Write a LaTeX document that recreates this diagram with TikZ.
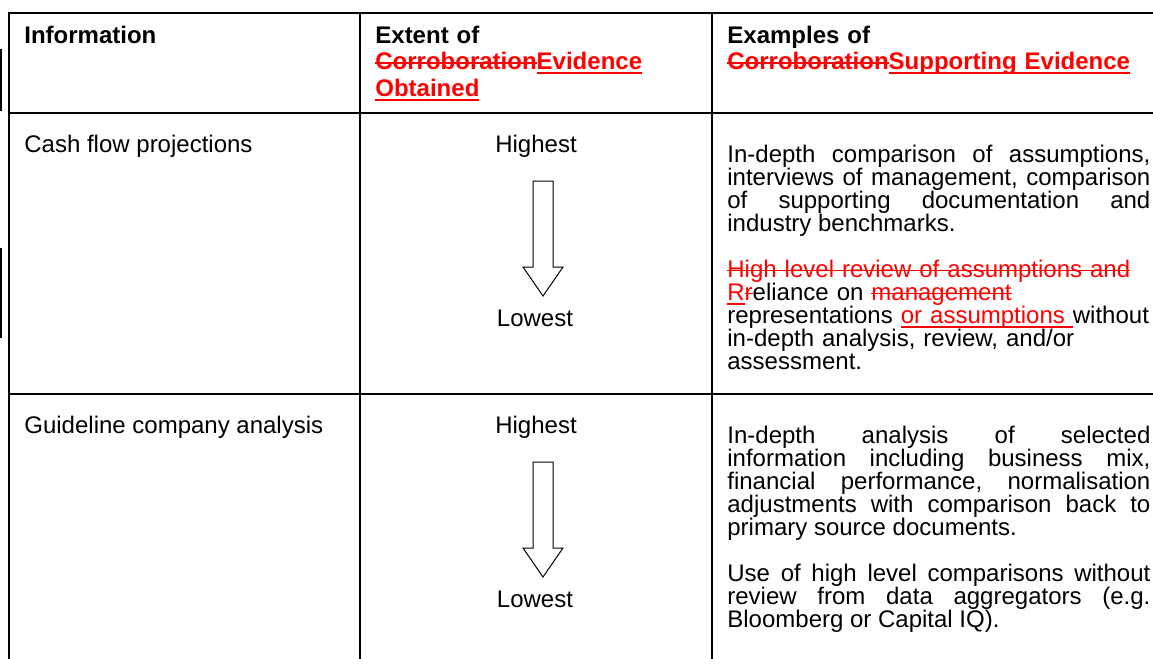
\documentclass[tikz,border=0pt]{standalone}
\usepackage{fontspec}
\setmainfont{Liberation Sans}
\definecolor{editred}{RGB}{255,0,0}
\newcommand{\addtxt}[1]{\leavevmode{\color{editred}\setbox0\hbox{#1}\rlap{\rule[-2.3pt]{\wd0}{0.9pt}}\box0}}
\newcommand{\striketxt}[1]{\leavevmode{\color{editred}\setbox0\hbox{#1}\rlap{\rule[3pt]{\wd0}{0.6pt}}\box0}}
\frenchspacing
\hyphenpenalty=10000

\begin{document}
\begin{tikzpicture}[x=0.5pt, y=-0.5pt,
headtext/.style={anchor=base west, inner sep=0pt, text width=165pt, align=left, font=\fontsize{12}{13.25}\selectfont\bfseries},
celltext/.style={anchor=base west, inner sep=0pt, font=\fontsize{12}{11.5}\selectfont},
midtext/.style={anchor=base, inner sep=0pt, font=\fontsize{12}{11.5}\selectfont},
bodytext/.style={anchor=base west, inner sep=0pt, text width=211.5pt, align=justify, font=\fontsize{12}{11.5}\selectfont},
raggedtext/.style={bodytext, align=left},
gridline/.style={line width=0.75pt},
bigarrow/.style={draw, line width=0.5pt, fill=white},
]
\useasboundingbox (0,0) rectangle (1153,659);

%Lines
\draw[gridline] (8,13) -- (1153,13);
\draw[gridline] (9,113) -- (1153,113);
\draw[gridline] (9,394) -- (1153,394);
\draw[gridline] (9,13) -- (9,659);
\draw[gridline] (360,13) -- (360,659);
\draw[gridline] (712,13) -- (712,659);
\draw[line width=1pt] (1,49) -- (1,111);
\draw[line width=1pt] (1,248) -- (1,338);

%Header
\node[headtext] (infohead) at (24,43) {Information};
\node[headtext] (extenthead) at (375,43) {Extent of\\
\striketxt{Corroboration}\addtxt{Evidence}\\
\addtxt{Obtained}};
\node[headtext] (examplehead) at (727,43) {Examples of\\
\striketxt{Corroboration}\addtxt{Supporting Evidence}};

%Row 1
\node[celltext] (cashflow) at (24,152) {Cash flow projections};
\node[midtext] (highA) at (536,152) {Highest};
\coordinate (arrowA) at (543,181);
\draw[bigarrow] (arrowA) ++(-10,0) -- ++(20,0) -- ++(0,86) -- ++(10,0) -- ++(-20,29) -- ++(-20,-29) -- ++(10,0) -- cycle;
\node[midtext] (lowA) at (535,326) {Lowest};
\node[bodytext] (detailA) at (727,162) {In-depth comparison of assumptions, \linebreak
interviews of management, comparison \linebreak
of supporting documentation and \linebreak
industry benchmarks.};
\node[raggedtext] (reviewA) at (727,277) {\striketxt{High level review of assumptions and}\\
\addtxt{R}\striketxt{r}eliance on \striketxt{management}\\
representations \addtxt{or assumptions }without\\
in-depth analysis, review, and/or\\
assessment.};

%Row 2
\node[celltext] (guideline) at (24,433) {Guideline company analysis};
\node[midtext] (highB) at (536,433) {Highest};
\coordinate (arrowB) at (543,462);
\draw[bigarrow] (arrowB) ++(-10,0) -- ++(20,0) -- ++(0,86) -- ++(10,0) -- ++(-20,29) -- ++(-20,-29) -- ++(10,0) -- cycle;
\node[midtext] (lowB) at (535,607) {Lowest};
\node[bodytext] (detailB) at (727,443) {In-depth analysis of selected \linebreak
information including business mix, \linebreak
financial performance, normalisation \linebreak
adjustments with comparison back to \linebreak
primary source documents.};
\node[bodytext] (reviewB) at (727,581) {Use of high level comparisons without \linebreak
review from data aggregators (e.g. \linebreak
Bloomberg or Capital IQ).};
\end{tikzpicture}
\end{document}
